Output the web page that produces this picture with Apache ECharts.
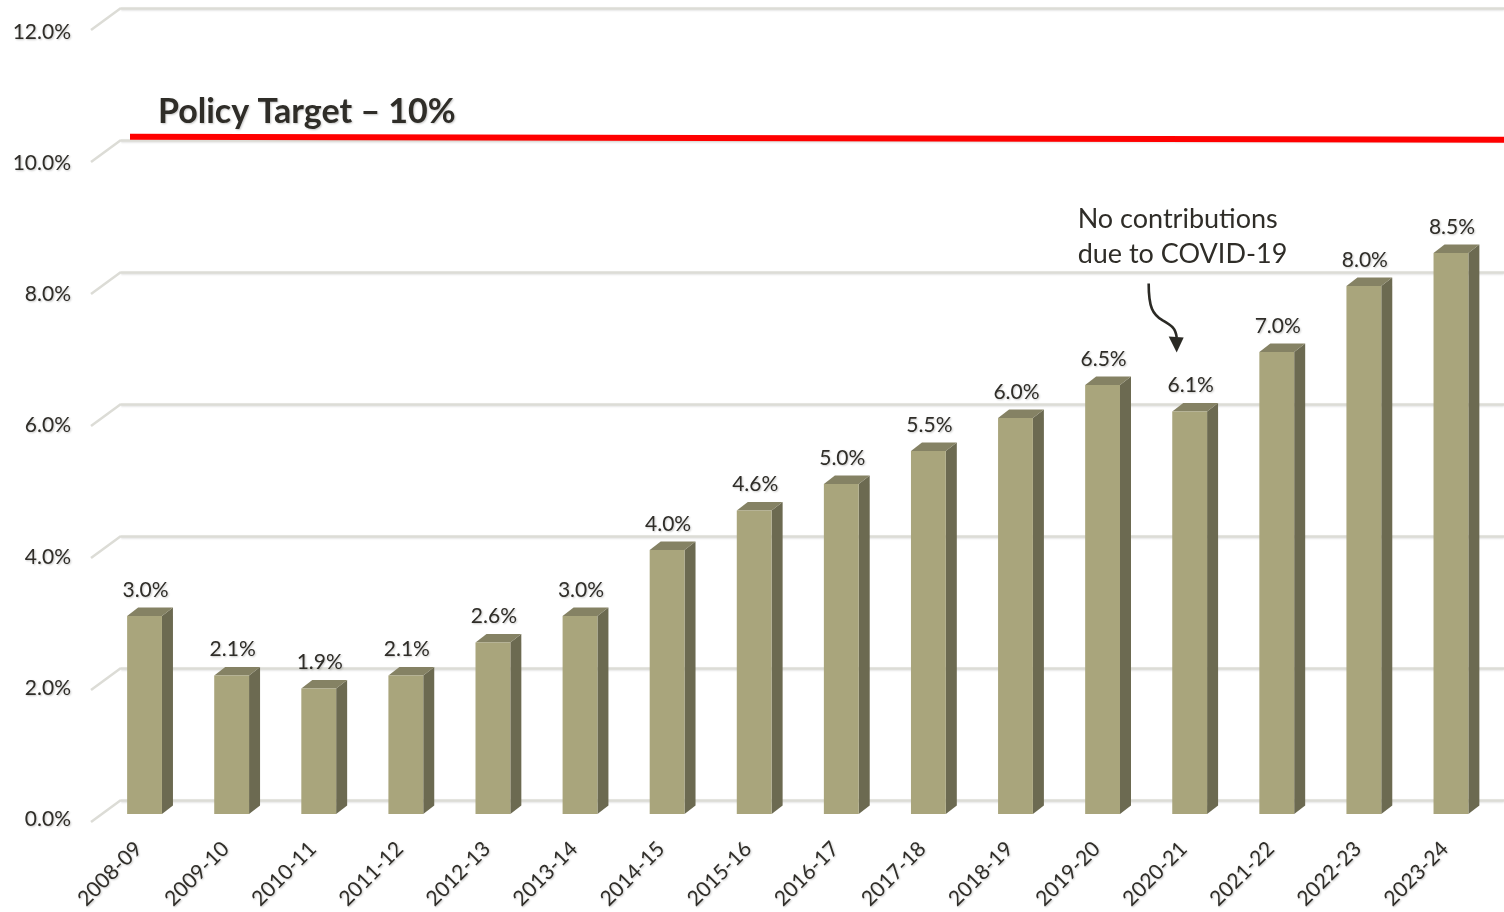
<!DOCTYPE html>
<html>
<head>
<meta charset="utf-8">
<style>
html,body{margin:0;padding:0;background:#fff;}
#chart{width:1504px;height:912px;}
</style>
<script src="https://cdn.jsdelivr.net/npm/echarts@6/dist/echarts.min.js"></script>
</head>
<body>
<div id="chart"></div>
<script>
// ---- data ----
const categories = ['2008-09','2009-10','2010-11','2011-12','2012-13','2013-14','2014-15','2015-16','2016-17','2017-18','2018-19','2019-20','2020-21','2021-22','2022-23','2023-24'];
const values = [3.0, 2.1, 1.9, 2.1, 2.6, 3.0, 4.0, 4.6, 5.0, 5.5, 6.0, 6.5, 6.1, 7.0, 8.0, 8.5];
const yTicks = [0, 2, 4, 6, 8, 10, 12];
const policyTarget = 10;
const policyLabel = 'Policy Target \u2013 10%';
const annotationCategory = '2020-21';
const annotationText = 'No contributions\ndue to COVID-19';

// ---- style ----
const FONT = 'Lato, "Open Sans", sans-serif';
const TXT = '#2f2d28';
const GRID = '#dcdcd6';
const FRONT = '#a9a57c';
const SIDE = '#6c6a51';
const TOPC = '#858264';
const shadow = {textShadowColor: 'rgba(0,0,0,0.22)', textShadowBlur: 2, textShadowOffsetX: 1, textShadowOffsetY: 1};

const chart = echarts.init(document.getElementById('chart'), null, {renderer: 'canvas'});

function barItem(params, api) {
  const idx = api.value(0);
  const v = api.value(1);
  const top = api.coord([idx, v]);
  const base = api.coord([idx, 0]);
  const w = api.size([1, 0])[0] * 0.4;
  const x0 = top[0] - w / 2, x1 = top[0] + w / 2;
  const dx = 11, dy = 8.5;
  const children = [
    {type: 'polygon', shape: {points: [[x1, top[1]], [x1 + dx, top[1] - dy], [x1 + dx, base[1] - dy], [x1, base[1]]]}, style: {fill: SIDE}},
    {type: 'polygon', shape: {points: [[x0, top[1]], [x0 + dx, top[1] - dy], [x1 + dx, top[1] - dy], [x1, top[1]]]}, style: {fill: TOPC}},
    {type: 'rect', shape: {x: x0, y: top[1], width: w, height: base[1] - top[1]}, style: {fill: FRONT}},
    {type: 'text', style: Object.assign({text: v.toFixed(1) + '%', x: top[0] + 1, y: top[1] - 26, align: 'center', verticalAlign: 'middle', fill: TXT, fontSize: 21, fontFamily: FONT}, shadow)}
  ];
  if (categories[idx] === annotationCategory) {
    const bx = top[0], by = top[1];
    children.push({type: 'text', style: {text: annotationText, x: bx - 112, y: by - 210, align: 'left', verticalAlign: 'top', lineHeight: 35, fill: TXT, fontSize: 27, fontFamily: FONT}});
    const tx = bx - 13, ty = by - 59;
    const p = (a, b) => (tx + a) + ' ' + (ty + b);
    children.push({type: 'path', shape: {pathData: 'M ' + p(-28, -69) + ' C ' + p(-28, -45) + ' ' + p(-24, -38) + ' ' + p(-14, -32) + ' C ' + p(-5, -27) + ' ' + p(-1, -24) + ' ' + p(0, -15)}, style: {fill: null, stroke: '#2b2a25', lineWidth: 2.6}});
    children.push({type: 'polygon', shape: {points: [[tx - 8, ty - 16], [tx + 7, ty - 15], [tx, ty]]}, style: {fill: '#2b2a25'}});
  }
  return {type: 'group', children};
}

function diagItem(params, api) {
  const v = api.value(0);
  const cs = params.coordSys;
  const y = api.coord([0, v])[1];
  return {type: 'line', shape: {x1: cs.x, y1: y, x2: cs.x - 30, y2: y + 22}, style: {stroke: GRID, lineWidth: 2.5}};
}

function targetItem(params, api) {
  const v = api.value(0);
  const cs = params.coordSys;
  const y = api.coord([0, v])[1];
  return {type: 'group', children: [
    {type: 'line', shape: {x1: cs.x + 9, y1: y - 3.3, x2: cs.x + cs.width, y2: y - 0.3}, style: {stroke: '#ff0000', lineWidth: 6}},
    {type: 'text', style: Object.assign({text: policyLabel, x: cs.x + 37, y: y - 28, align: 'left', verticalAlign: 'middle', fill: TXT, fontSize: 34, fontWeight: 'bold', fontFamily: FONT}, shadow)}
  ]};
}

const option = {
  animation: false,
  backgroundColor: '#ffffff',
  grid: [
    {left: 121, right: 0, top: 8, height: 792},
    {left: 101, right: 9.5, top: 22, height: 792},
    {left: 95, right: 15.5, top: 32, height: 791}
  ],
  xAxis: [
    {gridIndex: 0, type: 'category', data: categories, show: false},
    {gridIndex: 1, type: 'category', data: categories, show: false},
    {gridIndex: 2, type: 'category', data: categories, axisLine: {show: false}, axisTick: {show: false},
      axisLabel: Object.assign({rotate: 45, margin: 26, interval: 0, color: TXT, fontSize: 21, fontFamily: FONT}, shadow)}
  ],
  yAxis: [
    {gridIndex: 0, type: 'value', min: 0, max: 12, interval: 2, axisLabel: {show: false}, axisLine: {show: false}, axisTick: {show: false},
      splitLine: {show: true, lineStyle: {color: GRID, width: 2.5, shadowColor: 'rgba(0,0,0,0.12)', shadowBlur: 2, shadowOffsetY: 1}}},
    {gridIndex: 1, type: 'value', min: 0, max: 12, interval: 2, show: false},
    {gridIndex: 2, type: 'value', min: 0, max: 12, interval: 2, axisLine: {show: false}, axisTick: {show: false}, splitLine: {show: false},
      axisLabel: Object.assign({margin: 24, color: TXT, fontSize: 21, fontFamily: FONT, formatter: v => v.toFixed(1) + '%'}, shadow)}
  ],
  series: [
    {type: 'custom', xAxisIndex: 0, yAxisIndex: 0, data: yTicks.map(v => [v]), encode: {y: 0}, renderItem: diagItem, silent: true, clip: false},
    {type: 'custom', xAxisIndex: 0, yAxisIndex: 0, data: [[policyTarget]], encode: {y: 0}, renderItem: targetItem, silent: true, clip: false},
    {type: 'custom', xAxisIndex: 1, yAxisIndex: 1, data: values.map((v, i) => [i, v]), encode: {x: 0, y: 1}, renderItem: barItem, clip: false}
  ]
};
chart.setOption(option);
</script>
</body>
</html>
